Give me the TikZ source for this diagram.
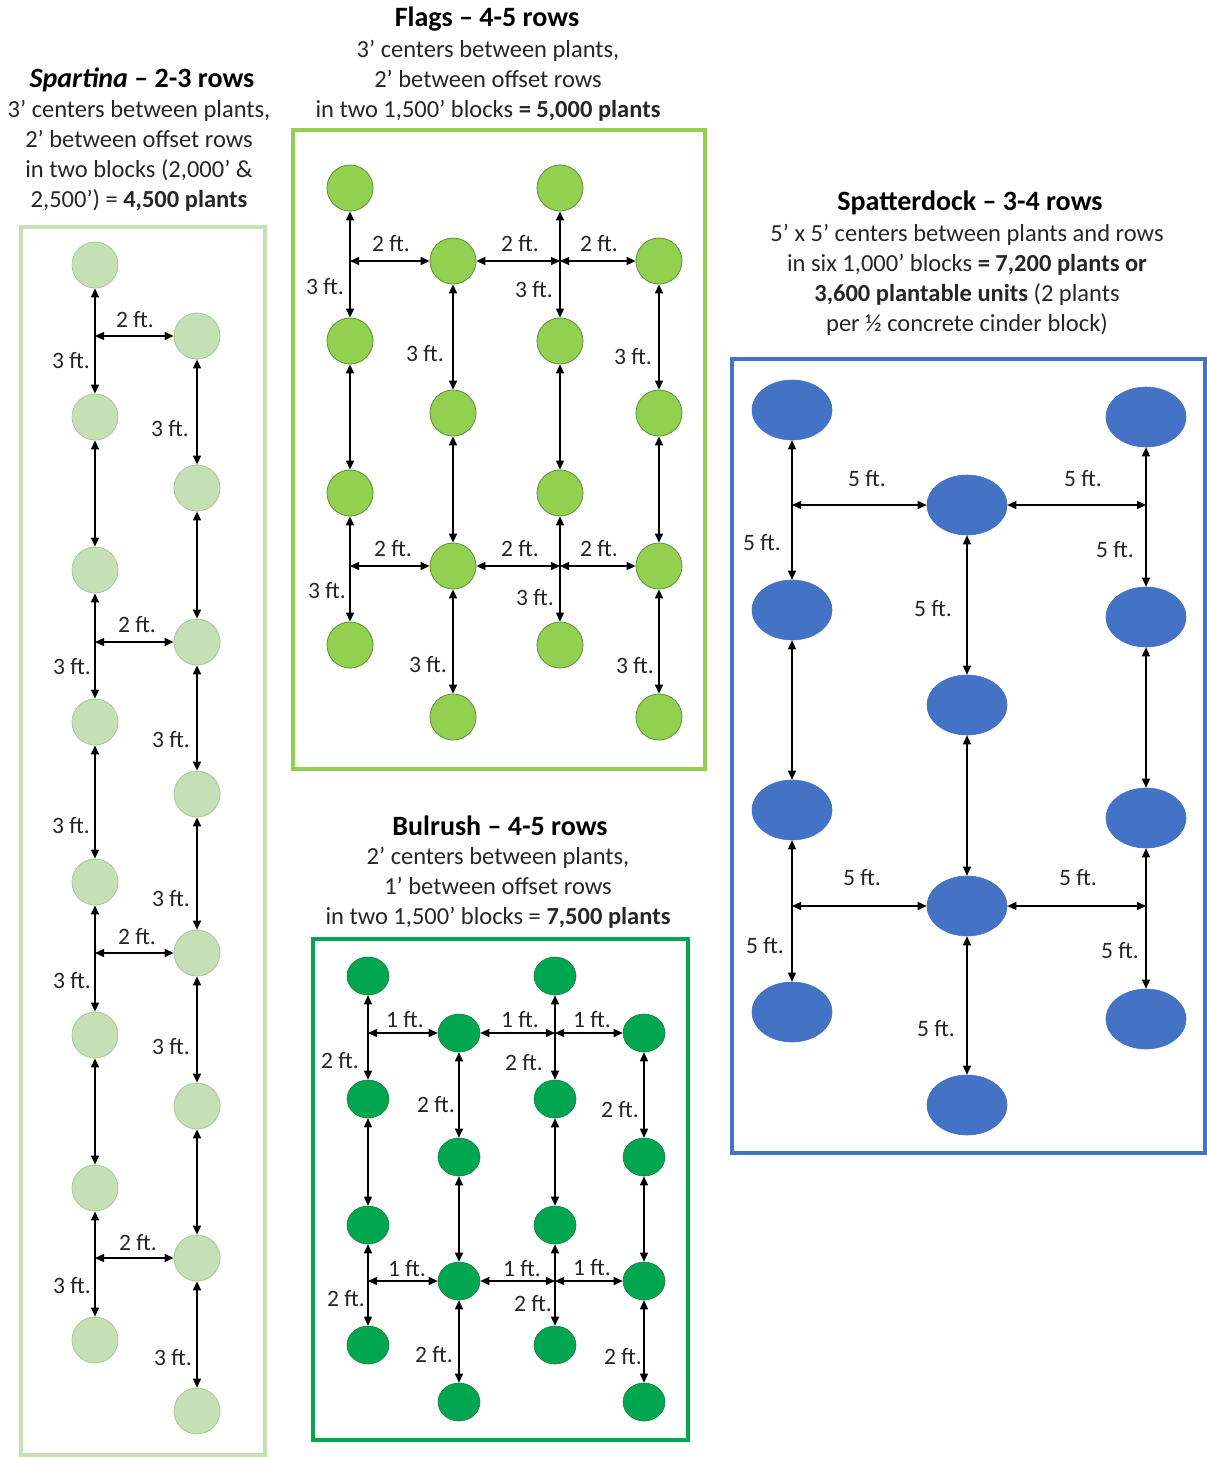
\documentclass[tikz,border=0pt]{standalone}
\usepackage{fontspec}
\setmainfont{Carlito}
\usetikzlibrary{arrows.meta,shapes.geometric}
\definecolor{spfill}{HTML}{C5E0B4}
\definecolor{spdraw}{HTML}{A8C79A}
\definecolor{flfill}{HTML}{92D050}
\definecolor{fldraw}{HTML}{5E8F3A}
\definecolor{bufill}{HTML}{00A650}
\definecolor{budraw}{HTML}{1F7A3F}
\definecolor{stfill}{HTML}{4472C4}
\definecolor{bodytext}{HTML}{262626}
\begin{document}
\begin{tikzpicture}[x=1pt,y=-1pt,
  dimarrow/.style={{Triangle[length=9pt,width=8pt]}-{Triangle[length=9pt,width=8pt]}, line width=1.4pt, black},
  lbl/.style={font=\fontsize{23.5}{26}\selectfont, text=bodytext, inner sep=0pt},
  ttl/.style={font=\fontsize{28}{30}\selectfont\bfseries, inner sep=0pt},
  body/.style={font=\fontsize{24.5}{30}\selectfont, text=bodytext, align=center, inner sep=0pt},
  spc/.style={circle, minimum size=46pt, inner sep=0pt, fill=spfill, draw=spdraw, line width=0.8pt},
  flc/.style={circle, minimum size=46pt, inner sep=0pt, fill=flfill, draw=fldraw, line width=0.8pt},
  buc/.style={ellipse, minimum width=42pt, minimum height=38pt, inner sep=0pt, fill=bufill, draw=budraw, line width=0.6pt},
  stc/.style={ellipse, minimum width=80pt, minimum height=60pt, inner sep=0pt, fill=stfill, draw=stfill, line width=0.6pt},
  boxline/.style={line width=4pt}
]
\useasboundingbox (0,0) rectangle (1207,1457);
\fill[white] (0,0) rectangle (1207,1457);

% ---------------- Spartina ----------------
\node[ttl] (spT) at (142,80) {\textit{Spartina} – 2-3 rows};
\node[body] (spB) at (139,156) {3’ centers between plants,\\2’ between offset rows\\in two blocks (2,000’ \&\\2,500’) = \textbf{4,500 plants}};
\draw[boxline, spfill] (21,227) rectangle (265,1455);
\foreach \y [count=\i] in {265,417,570,722,882,1035,1188,1340}
  \node[spc] (sL\i) at (95,\y) {};
\foreach \y [count=\i] in {336,488,642,794,953,1106,1258,1411}
  \node[spc] (sR\i) at (197,\y) {};
\foreach \i [evaluate=\i as \j using int(\i+1)] in {1,...,7} {
  \draw[dimarrow] (sL\i) -- (sL\j);
  \draw[dimarrow] (sR\i) -- (sR\j);
}
\foreach \k in {1,3,5,7} {
  \coordinate (sH\k) at (sL1 |- sR\k);
  \draw[dimarrow] (sH\k) -- (sR\k.west);
}
\node[lbl] (sl1) at (135,320) {2 ft.};
\node[lbl] (sl2) at (137,625) {2 ft.};
\node[lbl] (sl3) at (137,937) {2 ft.};
\node[lbl] (sl4) at (138,1243) {2 ft.};
\node[lbl] (sl5) at (71,361) {3 ft.};
\node[lbl] (sl6) at (72,667) {3 ft.};
\node[lbl] (sl7) at (71,826) {3 ft.};
\node[lbl] (sl8) at (72,981) {3 ft.};
\node[lbl] (sl9) at (72,1286) {3 ft.};
\node[lbl] (sl10) at (170,429) {3 ft.};
\node[lbl] (sl11) at (171,740) {3 ft.};
\node[lbl] (sl12) at (171,899) {3 ft.};
\node[lbl] (sl13) at (171,1047) {3 ft.};
\node[lbl] (sl14) at (173,1358) {3 ft.};

% ---------------- Flags ----------------
\node[ttl] (flT) at (487,19) {Flags – 4-5 rows};
\node[body] (flB) at (488,81) {3’ centers between plants,\\2’ between offset rows\\in two 1,500’ blocks \textbf{= 5,000 plants}};
\draw[boxline, flfill] (293,130) rectangle (705,769);
\foreach \y [count=\i] in {188,341,493,645} {
  \node[flc] (fA\i) at (350,\y) {};
  \node[flc] (fC\i) at (560,\y) {};
}
\foreach \y [count=\i] in {261,413,566,717} {
  \node[flc] (fB\i) at (453,\y) {};
  \node[flc] (fD\i) at (659,\y) {};
}
\foreach \i [evaluate=\i as \j using int(\i+1)] in {1,2,3} {
  \draw[dimarrow] (fA\i) -- (fA\j);
  \draw[dimarrow] (fB\i) -- (fB\j);
  \draw[dimarrow] (fC\i) -- (fC\j);
  \draw[dimarrow] (fD\i) -- (fD\j);
}
\foreach \k in {1,3} {
  \coordinate (fHa\k) at (fA1 |- fB\k);
  \coordinate (fHc\k) at (fC1 |- fB\k);
  \draw[dimarrow] (fHa\k) -- (fB\k.west);
  \draw[dimarrow] (fB\k.east) -- (fHc\k);
  \draw[dimarrow] (fHc\k) -- (fD\k.west);
}
\node[lbl] (fl1) at (391,244) {2 ft.};
\node[lbl] (fl2) at (520,244) {2 ft.};
\node[lbl] (fl3) at (599,244) {2 ft.};
\node[lbl] (fl4) at (393,549) {2 ft.};
\node[lbl] (fl5) at (520,549) {2 ft.};
\node[lbl] (fl6) at (599,549) {2 ft.};
\node[lbl] (fl7) at (325,287) {3 ft.};
\node[lbl] (fl8) at (327,591) {3 ft.};
\node[lbl] (fl9) at (425,354) {3 ft.};
\node[lbl] (fl10) at (428,665) {3 ft.};
\node[lbl] (fl11) at (534,290) {3 ft.};
\node[lbl] (fl12) at (535,598) {3 ft.};
\node[lbl] (fl13) at (633,357) {3 ft.};
\node[lbl] (fl14) at (635,666) {3 ft.};

% ---------------- Bulrush ----------------
\node[ttl] (buT) at (500,826) {Bulrush – 4-5 rows};
\node[body] (buB) at (498,888) {2’ centers between plants,\\1’ between offset rows\\in two 1,500’ blocks = \textbf{7,500 plants}};
\draw[boxline, bufill] (313,939) rectangle (688,1440);
\foreach \y [count=\i] in {976,1099,1225,1345} {
  \node[buc] (bA\i) at (368,\y) {};
  \node[buc] (bC\i) at (555,\y) {};
}
\foreach \y [count=\i] in {1033,1157,1281,1402} {
  \node[buc] (bB\i) at (459,\y) {};
  \node[buc] (bD\i) at (644,\y) {};
}
\foreach \i [evaluate=\i as \j using int(\i+1)] in {1,2,3} {
  \draw[dimarrow] (bA\i) -- (bA\j);
  \draw[dimarrow] (bB\i) -- (bB\j);
  \draw[dimarrow] (bC\i) -- (bC\j);
  \draw[dimarrow] (bD\i) -- (bD\j);
}
\foreach \k in {1,3} {
  \coordinate (bHa\k) at (bA1 |- bB\k);
  \coordinate (bHc\k) at (bC1 |- bB\k);
  \draw[dimarrow] (bHa\k) -- (bB\k.west);
  \draw[dimarrow] (bB\k.east) -- (bHc\k);
  \draw[dimarrow] (bHc\k) -- (bD\k.west);
}
\node[lbl] (bl1) at (405,1020) {1 ft.};
\node[lbl] (bl2) at (520,1020) {1 ft.};
\node[lbl] (bl3) at (592,1020) {1 ft.};
\node[lbl] (bl4) at (407,1269) {1 ft.};
\node[lbl] (bl5) at (522,1269) {1 ft.};
\node[lbl] (bl6) at (592,1268) {1 ft.};
\node[lbl] (bl7) at (340,1061) {2 ft.};
\node[lbl] (bl8) at (436,1105) {2 ft.};
\node[lbl] (bl9) at (524,1063) {2 ft.};
\node[lbl] (bl10) at (620,1110) {2 ft.};
\node[lbl] (bl11) at (346,1299) {2 ft.};
\node[lbl] (bl12) at (434,1355) {2 ft.};
\node[lbl] (bl13) at (533,1304) {2 ft.};
\node[lbl] (bl14) at (623,1357) {2 ft.};

% ---------------- Spatterdock ----------------
\node[ttl] (stT) at (970,203) {Spatterdock – 3-4 rows};
\node[body] (stB) at (967,280) {5’ x 5’ centers between plants and rows\\in six 1,000’ blocks \textbf{= 7,200 plants or}\\\textbf{3,600 plantable units} (2 plants\\per ½ concrete cinder block)};
\draw[boxline, stfill] (732,359) rectangle (1205,1153);
\foreach \y [count=\i] in {410,610,810,1012}
  \node[stc] (tA\i) at (792,\y) {};
\foreach \y [count=\i] in {505,705,906,1105}
  \node[stc] (tB\i) at (967,\y) {};
\foreach \y [count=\i] in {417,617,818,1019}
  \node[stc] (tC\i) at (1146,\y) {};
\foreach \i [evaluate=\i as \j using int(\i+1)] in {1,2,3} {
  \draw[dimarrow] (tA\i) -- (tA\j);
  \draw[dimarrow] (tB\i) -- (tB\j);
  \draw[dimarrow] (tC\i) -- (tC\j);
}
\foreach \k in {1,3} {
  \coordinate (tHa\k) at (tA1 |- tB\k);
  \coordinate (tHc\k) at (tC1 |- tB\k);
  \draw[dimarrow] (tHa\k) -- (tB\k.west);
  \draw[dimarrow] (tB\k.east) -- (tHc\k);
}
\node[lbl] (tl1) at (867,479) {5 ft.};
\node[lbl] (tl2) at (1083,479) {5 ft.};
\node[lbl] (tl3) at (862,878) {5 ft.};
\node[lbl] (tl4) at (1078,878) {5 ft.};
\node[lbl] (tl5) at (762,543) {5 ft.};
\node[lbl] (tl6) at (933,609) {5 ft.};
\node[lbl] (tl7) at (1115,550) {5 ft.};
\node[lbl] (tl8) at (765,946) {5 ft.};
\node[lbl] (tl9) at (936,1029) {5 ft.};
\node[lbl] (tl10) at (1120,951) {5 ft.};
\end{tikzpicture}
\end{document}
